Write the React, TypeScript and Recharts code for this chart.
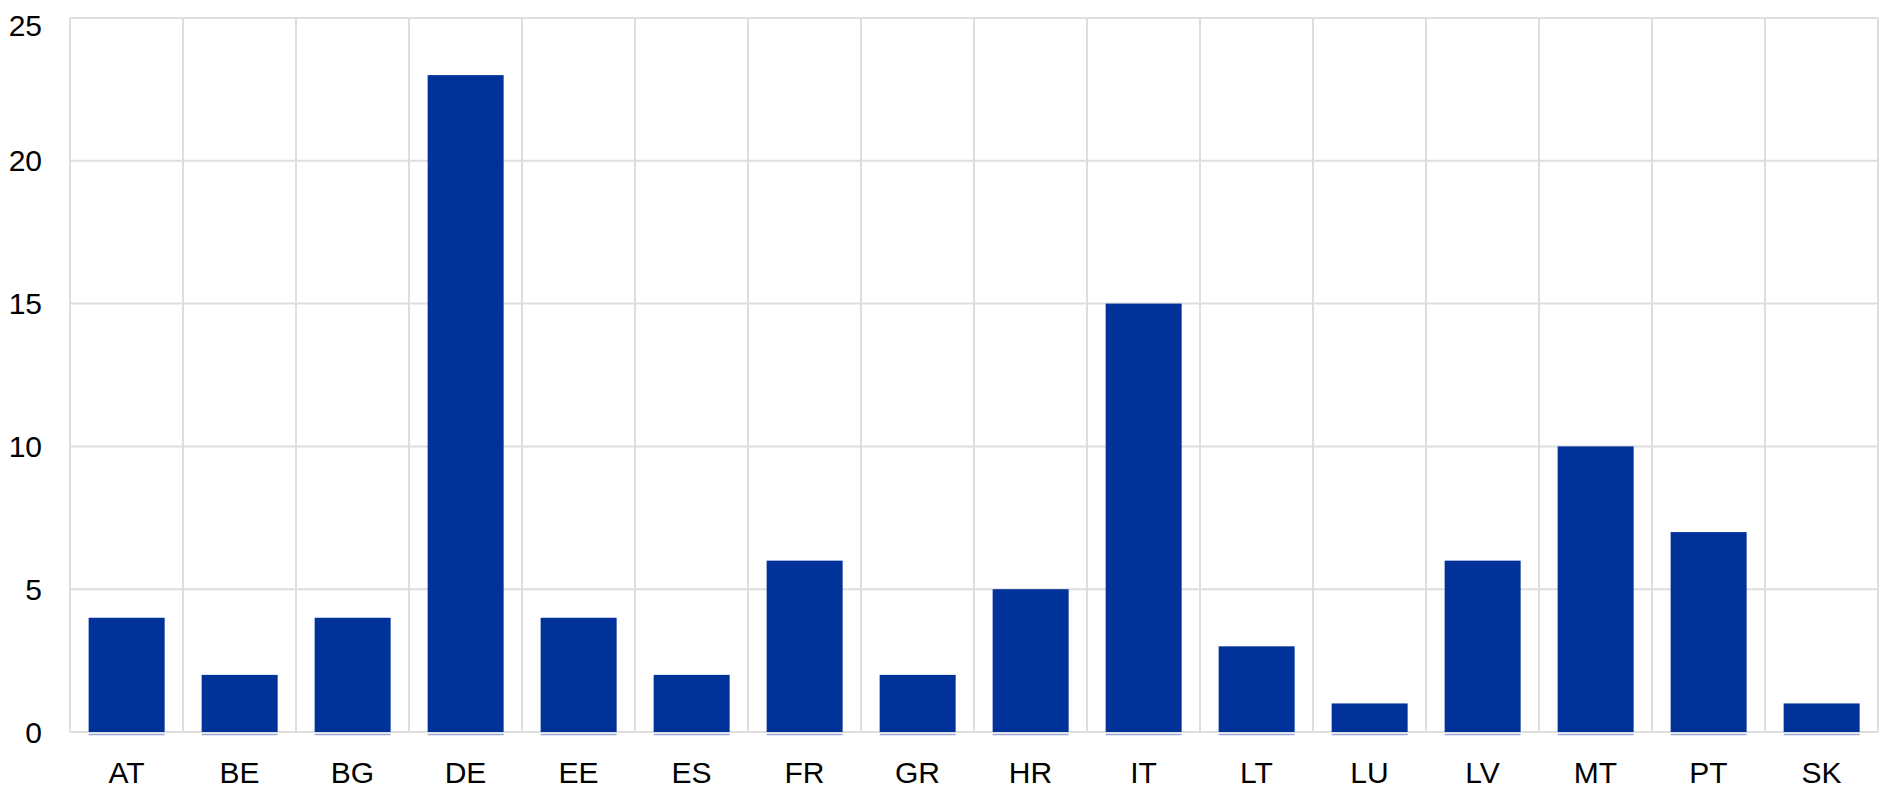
import { BarChart, Bar, XAxis, YAxis, CartesianGrid } from "recharts";

const countries = ["AT", "BE", "BG", "DE", "EE", "ES", "FR", "GR", "HR", "IT", "LT", "LU", "LV", "MT", "PT", "SK"];
const counts = [4, 2, 4, 23, 4, 2, 6, 2, 5, 15, 3, 1, 6, 10, 7, 1];
const yTicks = [0, 5, 10, 15, 20, 25];

const data = countries.map((c, i) => ({ name: c, value: counts[i] }));

const BLUE = "#003299";
const GRID = "#dedede";
const FONT = "'Liberation Sans', Arial, sans-serif";

// bar with the thin light underline seen at the base of each column
const BarWithBase = (props: any) => {
  const { x, y, width, height } = props;
  return (
    <g>
      <rect x={x} y={y} width={width} height={height} fill={BLUE} />
      <line x1={x} x2={x + width} y1={y + height + 2.5} y2={y + height + 2.5} stroke="#9aa9d4" strokeWidth={1.5} />
    </g>
  );
};

const tickStyle = { fill: "#000", fontSize: 30, fontFamily: FONT };

export default function App() {
  return (
    <div style={{ width: 1880, height: 788, fontFamily: FONT, fontSize: 30 }}>
      <BarChart
        width={1880}
        height={788}
        data={data}
        margin={{ top: 10, right: 10, bottom: 0, left: 0 }}
        barCategoryGap="16.5%"
      >
        <CartesianGrid
          stroke={GRID}
          strokeWidth={2}
          verticalCoordinatesGenerator={({ offset }: any) =>
            countries.map((_, i) => offset.left + (i * offset.width) / countries.length).concat(offset.left + offset.width)
          }
        />
        <XAxis
          dataKey="name"
          axisLine={false}
          tickLine={false}
          tickSize={0}
          tickMargin={30}
          height={64}
          interval={0}
          fontSize={30}
          tick={tickStyle}
        />
        <YAxis
          domain={[0, 25]}
          ticks={yTicks}
          axisLine={false}
          tickLine={false}
          tickSize={0}
          tickMargin={28}
          width={62}
          fontSize={30}
          tick={tickStyle}
        />
        <Bar dataKey="value" fill={BLUE} shape={<BarWithBase />} isAnimationActive={false} />
      </BarChart>
    </div>
  );
}
